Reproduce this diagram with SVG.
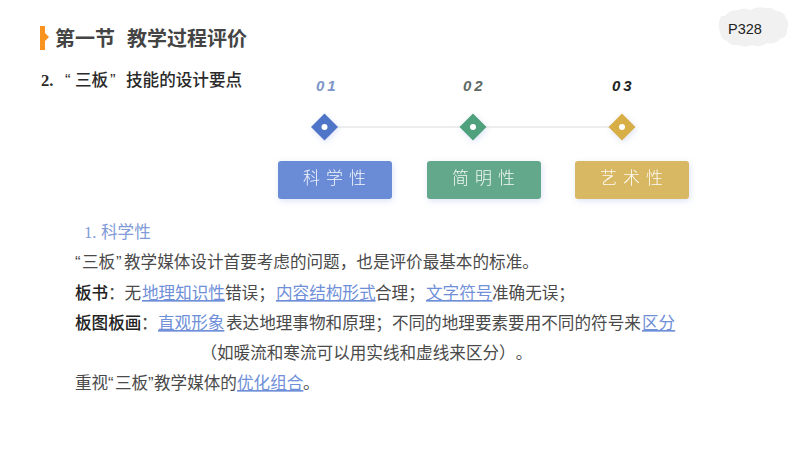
<svg xmlns="http://www.w3.org/2000/svg" width="800" height="450" viewBox="0 0 800 450">
<style>
text{font-family:"Noto Sans CJK SC","Noto Sans",sans-serif;text-spacing-trim:space-all}
.t{font-size:16.6px;fill:#4a4a4a}
.b{font-weight:500;fill:#222}
.l{fill:#6f90d8;text-decoration:underline}
.q{font-family:"Liberation Sans",sans-serif}
.s{font-size:16.600px;font-weight:500;fill:#2a2a2a}
.n{font-family:"Liberation Sans","Noto Sans",sans-serif;font-size:15px;font-style:italic;font-weight:700;letter-spacing:3px}
.c{font-size:17px;font-weight:300;fill:#fff;letter-spacing:6px;opacity:.92}
</style>
<defs>
<filter id="s" x="-20%" y="-30%" width="140%" height="170%"><feDropShadow dx="1" dy="2" stdDeviation="3" flood-color="#8fa3e0" flood-opacity=".3"/></filter>
</defs>
<rect width="800" height="450" fill="#fff"/>
<g id="title">
<path d="M40 26h5v7l4 4-4 4v9h-5z" fill="#f7931e"/>
<text x="55" y="46" font-size="20" font-weight="700" fill="#444">第一节</text>
<text x="127" y="46" font-size="20" font-weight="700" fill="#444">教学过程评价</text>
</g>
<g id="page">
<path d="M725 16q4-6 13-6 6-3 13 0 6-4 14-2 7-1 11 3 8 0 10 7 4 6 1 11 1 8-7 10-5 6-13 4-7 5-15 2-8 3-14 0-8 1-11-4-6-2-7-9-3-8 1-16z" fill="#f1f1f1"/>
<text x="728" y="34" font-size="14.5" fill="#222" style="font-family:'Liberation Sans',sans-serif">P328</text>
</g>
<g id="subtitle">
<text class="s" x="41" y="86" style="font-family:'Liberation Serif',serif;font-weight:700">2.</text>
<text class="s q" x="65" y="86">“</text>
<text class="s" x="75" y="86">三板</text>
<text class="s q" x="110" y="86">”</text>
<text class="s" x="126" y="86">技能的设计要点</text>
</g>
<g id="connectors">
<line x1="324" y1="127" x2="622" y2="127" stroke="#dcdcdc" stroke-width="1"/>
</g>
<g id="node-1">
<text class="n" x="316" y="91" fill="#7d95c8">01</text>
<path d="M324.500 113.500l13.500 13.500-13.500 13.500-13.500-13.500z" fill="#5074c8" filter="url(#s)"/>
<circle cx="324.500" cy="127" r="3" fill="#fff"/>
<rect x="278" y="161" width="114" height="38" rx="3" fill="#6a8bd6" filter="url(#s)"/>
<text class="c" x="303" y="184">科学性</text>
</g>
<g id="node-2">
<text class="n" x="463" y="91" fill="#5f6a65">02</text>
<path d="M473 113.500l13.500 13.500-13.500 13.500-13.500-13.500z" fill="#50a07c" filter="url(#s)"/>
<circle cx="473" cy="127" r="3" fill="#fff"/>
<rect x="427" y="161" width="114" height="38" rx="3" fill="#64a88a" filter="url(#s)"/>
<text class="c" x="452" y="184">简明性</text>
</g>
<g id="node-3">
<text class="n" x="612" y="91" fill="#222">03</text>
<path d="M622 113.500l13.500 13.500-13.500 13.500-13.500-13.500z" fill="#d8ae46" filter="url(#s)"/>
<circle cx="622" cy="127" r="3" fill="#fff"/>
<rect x="575" y="161" width="114" height="38" rx="3" fill="#d8b862" filter="url(#s)"/>
<text class="c" x="600" y="184">艺术性</text>
</g>
<g id="body">
<text class="t" x="84" y="238" style="fill:#7f9bd8;font-family:'Liberation Serif',serif">1.</text>
<text class="t" x="101" y="238" style="fill:#7f9bd8">科学性</text>
<text class="t q" x="75" y="268">“</text>
<text class="t" x="82" y="268">三板</text>
<text class="t q" x="116" y="268">”</text>
<text class="t" x="124" y="268">教学媒体设计首要考虑的问题，也是评价最基本的标准。</text>
<text class="t b" x="75" y="299">板书</text>
<text class="t" x="108" y="299">：无</text>
<text class="t l" x="142" y="299">地理知识性</text>
<text class="t" x="225" y="299">错误；</text>
<text class="t l" x="276" y="299">内容结构形式</text>
<text class="t" x="375" y="299">合理；</text>
<text class="t l" x="426" y="299">文字符号</text>
<text class="t" x="492" y="299">准确无误；</text>
<text class="t b" x="75" y="329">板图板画</text>
<text class="t" x="141" y="329">：</text>
<text class="t l" x="158" y="329">直观形象</text>
<text class="t" x="226" y="329">表达地理事物和原理；不同的地理要素要用不同的符号来</text>
<text class="t l" x="642" y="329">区分</text>
<text class="t" x="200.400" y="359">（如暖流和寒流可以用实线和虚线来区分）。</text>
<text class="t" x="75" y="389">重视</text>
<text class="t q" x="108" y="389">“</text>
<text class="t" x="115" y="389">三板</text>
<text class="t q" x="148" y="389">”</text>
<text class="t" x="154" y="389">教学媒体的</text>
<text class="t l" x="237" y="389">优化组合</text>
<text class="t" x="303" y="389">。</text>
</g>
</svg>
